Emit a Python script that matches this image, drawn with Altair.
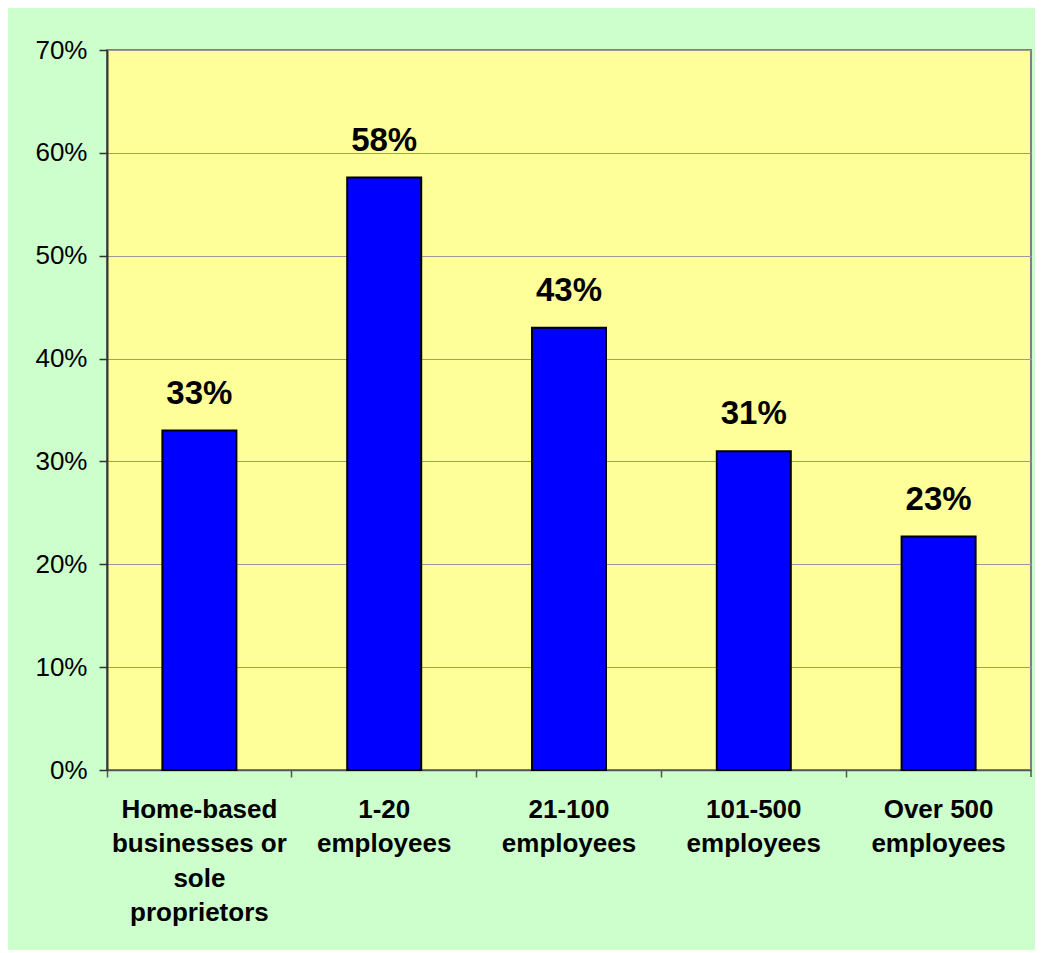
import altair as alt
import pandas as pd

categories = [
    "Home-based|businesses or|sole|proprietors",
    "1-20|employees",
    "21-100|employees",
    "101-500|employees",
    "Over 500|employees",
]
shares = [0.33, 0.576, 0.43, 0.31, 0.227]
y_ticks = [0, 0.1, 0.2, 0.3, 0.4, 0.5, 0.6, 0.7]

df = pd.DataFrame({"category": categories, "share": shares})

FONT = "Liberation Sans"

x_enc = alt.X(
    "category:N",
    sort=categories,
    title=None,
    scale=alt.Scale(paddingInner=0, paddingOuter=0),
    axis=alt.Axis(
        labelExpr="split(datum.label, '|')",
        labelAngle=0,
        labelFont=FONT,
        labelFontSize=26,
        labelFontWeight="bold",
        labelColor="black",
        labelLineHeight=34.5,
        labelBaseline="top",
        labelPadding=19,
        labelLimit=300,
        tickSize=7,
        tickColor="#555555",
        tickWidth=1.5,
        bandPosition=0,
        domainColor="#555555",
        domainWidth=1.5,
        grid=False,
    ),
)

y_enc = alt.Y(
    "share:Q",
    title=None,
    scale=alt.Scale(domain=[0, 0.7], nice=False),
    axis=alt.Axis(
        values=y_ticks,
        format=".0%",
        labelFont=FONT,
        labelFontSize=26,
        labelColor="black",
        labelPadding=12,
        tickSize=8,
        tickColor="#333333",
        tickWidth=1.5,
        domainColor="#333333",
        domainWidth=2,
        gridColor="#9a9a9a",
        gridWidth=1,
    ),
)

bars = alt.Chart(df).mark_bar(
    size=74, color="#0000FF", stroke="black", strokeWidth=2
).encode(x=x_enc, y=y_enc)

labels = alt.Chart(df).mark_text(
    font=FONT, fontSize=33, fontWeight="bold", color="black",
    baseline="bottom", dy=-20
).encode(
    x=alt.X("category:N", sort=categories),
    y=alt.Y("share:Q"),
    text=alt.Text("share:Q", format=".0%"),
)

end_tick = alt.Chart(df).transform_filter(
    alt.datum.category == categories[-1]
).mark_rule(color="#555555", strokeWidth=1.5).encode(
    x=alt.X("category:N", sort=categories, bandPosition=1),
    y=alt.value(720),
    y2=alt.value(727),
)

chart = alt.layer(bars, labels, end_tick).properties(
    width=924,
    height=720,
    background="#CCFFCC",
    padding={"left": 99, "top": 42, "right": 4, "bottom": 180},
    autosize=alt.AutoSizeParams(type="none"),
).configure_view(
    fill="#FFFF99",
    stroke="#808080",
    strokeWidth=2,
)

chart.save("out.html", embed_options={"renderer": "svg", "actions": False})
